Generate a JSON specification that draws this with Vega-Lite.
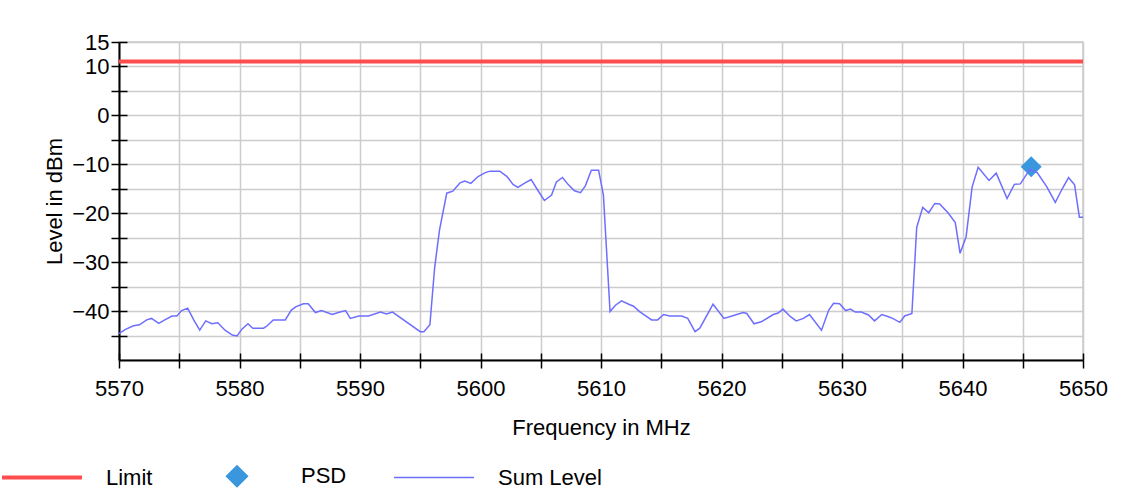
{
  "$schema": "https://vega.github.io/schema/vega-lite/v6.json",
  "width": 964,
  "height": 318,
  "autosize": {"type": "none"},
  "padding": {"left": 119, "top": 42, "right": 41, "bottom": 130},
  "background": "white",
  "config": {
    "font": "Liberation Sans",
    "view": {"stroke": "#cccccc", "strokeWidth": 1.5}
  },
  "resolve": {"axis": {"x": "independent", "y": "independent"}},
  "datasets": {
    "limit": [{"f": 5570, "v": 11}, {"f": 5650, "v": 11}],
    "psd": [{"f": 5645.7, "v": -10.5}],
    "sum": [
      {"f": 5570.0, "v": -44.6}, {"f": 5570.5, "v": -43.8}, {"f": 5571.2, "v": -43.0}, {"f": 5571.7, "v": -42.8},
      {"f": 5572.3, "v": -41.8}, {"f": 5572.7, "v": -41.5}, {"f": 5573.3, "v": -42.5}, {"f": 5573.8, "v": -41.8},
      {"f": 5574.4, "v": -41.0}, {"f": 5574.8, "v": -41.0}, {"f": 5575.2, "v": -39.9}, {"f": 5575.7, "v": -39.4},
      {"f": 5576.2, "v": -41.8}, {"f": 5576.7, "v": -43.9}, {"f": 5577.2, "v": -42.0}, {"f": 5577.7, "v": -42.6},
      {"f": 5578.2, "v": -42.4}, {"f": 5578.8, "v": -43.9}, {"f": 5579.4, "v": -44.9}, {"f": 5579.8, "v": -45.1},
      {"f": 5580.2, "v": -43.7}, {"f": 5580.7, "v": -42.6}, {"f": 5581.1, "v": -43.5}, {"f": 5582.0, "v": -43.5},
      {"f": 5582.3, "v": -43.0}, {"f": 5582.8, "v": -41.8}, {"f": 5583.8, "v": -41.8}, {"f": 5584.3, "v": -39.8},
      {"f": 5584.7, "v": -39.1}, {"f": 5585.3, "v": -38.5}, {"f": 5585.7, "v": -38.5}, {"f": 5586.3, "v": -40.3},
      {"f": 5586.8, "v": -39.9}, {"f": 5587.7, "v": -40.7}, {"f": 5588.2, "v": -40.3}, {"f": 5588.8, "v": -39.9},
      {"f": 5589.2, "v": -41.5}, {"f": 5589.9, "v": -41.0}, {"f": 5590.7, "v": -41.0}, {"f": 5591.7, "v": -40.2},
      {"f": 5592.2, "v": -40.6}, {"f": 5592.7, "v": -40.2}, {"f": 5595.0, "v": -44.2}, {"f": 5595.3, "v": -44.2},
      {"f": 5595.8, "v": -42.8}, {"f": 5596.2, "v": -31.0}, {"f": 5596.6, "v": -23.4}, {"f": 5597.2, "v": -15.9},
      {"f": 5597.7, "v": -15.5}, {"f": 5598.3, "v": -13.8}, {"f": 5598.7, "v": -13.4}, {"f": 5599.2, "v": -13.9},
      {"f": 5599.8, "v": -12.5}, {"f": 5600.4, "v": -11.7}, {"f": 5600.8, "v": -11.4}, {"f": 5601.6, "v": -11.4},
      {"f": 5602.2, "v": -12.5}, {"f": 5602.7, "v": -14.1}, {"f": 5603.1, "v": -14.7}, {"f": 5603.7, "v": -13.8},
      {"f": 5604.2, "v": -13.1}, {"f": 5604.7, "v": -15.1}, {"f": 5605.3, "v": -17.4}, {"f": 5605.9, "v": -16.3},
      {"f": 5606.3, "v": -13.6}, {"f": 5606.8, "v": -12.7}, {"f": 5607.3, "v": -14.2}, {"f": 5607.8, "v": -15.4},
      {"f": 5608.3, "v": -15.8}, {"f": 5608.7, "v": -14.4}, {"f": 5609.2, "v": -11.2}, {"f": 5609.8, "v": -11.2},
      {"f": 5610.2, "v": -16.3}, {"f": 5610.75, "v": -40.1}, {"f": 5611.2, "v": -38.8}, {"f": 5611.7, "v": -37.9},
      {"f": 5612.3, "v": -38.6}, {"f": 5612.7, "v": -39.0}, {"f": 5613.2, "v": -40.1}, {"f": 5614.2, "v": -41.8},
      {"f": 5614.7, "v": -41.8}, {"f": 5615.2, "v": -40.7}, {"f": 5615.7, "v": -41.0}, {"f": 5616.7, "v": -41.0},
      {"f": 5617.2, "v": -41.5}, {"f": 5617.8, "v": -44.2}, {"f": 5618.2, "v": -43.5}, {"f": 5619.3, "v": -38.6},
      {"f": 5620.2, "v": -41.5}, {"f": 5621.0, "v": -40.9}, {"f": 5621.8, "v": -40.3}, {"f": 5622.1, "v": -40.5},
      {"f": 5622.7, "v": -42.6}, {"f": 5623.3, "v": -42.2}, {"f": 5624.3, "v": -40.7}, {"f": 5624.7, "v": -40.4},
      {"f": 5625.1, "v": -39.6}, {"f": 5625.7, "v": -41.1}, {"f": 5626.2, "v": -42.0}, {"f": 5626.8, "v": -41.5},
      {"f": 5627.3, "v": -40.7}, {"f": 5628.3, "v": -43.9}, {"f": 5628.9, "v": -39.8}, {"f": 5629.3, "v": -38.4},
      {"f": 5629.8, "v": -38.5}, {"f": 5630.3, "v": -39.9}, {"f": 5630.7, "v": -39.6}, {"f": 5631.1, "v": -40.2},
      {"f": 5631.6, "v": -40.2}, {"f": 5632.2, "v": -40.8}, {"f": 5632.7, "v": -42.0}, {"f": 5633.3, "v": -40.7},
      {"f": 5633.8, "v": -41.1}, {"f": 5634.2, "v": -41.5}, {"f": 5634.8, "v": -42.3}, {"f": 5635.2, "v": -41.0},
      {"f": 5635.8, "v": -40.5}, {"f": 5636.2, "v": -22.9}, {"f": 5636.7, "v": -18.8}, {"f": 5637.2, "v": -19.9},
      {"f": 5637.7, "v": -18.0}, {"f": 5638.1, "v": -18.1}, {"f": 5638.8, "v": -19.9}, {"f": 5639.4, "v": -21.9},
      {"f": 5639.8, "v": -28.2}, {"f": 5640.3, "v": -24.8}, {"f": 5640.8, "v": -14.6}, {"f": 5641.3, "v": -10.6},
      {"f": 5642.2, "v": -13.3}, {"f": 5642.8, "v": -11.8}, {"f": 5643.7, "v": -17.0}, {"f": 5644.3, "v": -14.1},
      {"f": 5644.8, "v": -14.0}, {"f": 5645.6, "v": -11.0}, {"f": 5646.2, "v": -11.7}, {"f": 5647.0, "v": -14.6},
      {"f": 5647.7, "v": -17.8}, {"f": 5648.3, "v": -14.9}, {"f": 5648.8, "v": -12.7}, {"f": 5649.3, "v": -14.2},
      {"f": 5649.7, "v": -20.8}, {"f": 5650.0, "v": -20.8}
    ]
  },
  "layer": [
    {
      "data": {"name": "limit"},
      "mark": {"type": "line", "strokeWidth": 4, "clip": true},
      "encoding": {
        "x": {
          "field": "f", "type": "quantitative",
          "scale": {"domain": [5570, 5650], "nice": false, "zero": false},
          "axis": {
            "orient": "bottom",
            "title": "Frequency in MHz",
            "values": [5570, 5575, 5580, 5585, 5590, 5595, 5600, 5605, 5610, 5615, 5620, 5625, 5630, 5635, 5640, 5645, 5650],
            "labelExpr": "datum.value % 10 == 0 ? datum.label : ''",
            "format": "d",
            "grid": true, "gridColor": "#cccccc", "gridWidth": 1.5,
            "domainColor": "#000000", "domainWidth": 2,
            "tickColor": "#000000", "tickWidth": 1.5, "tickSize": 8,
            "labelFontSize": 22, "labelColor": "#000000", "labelPadding": 10,
            "labelOverlap": false, "labelFlush": false, "labelBound": false,
            "titleFontSize": 22, "titleFontWeight": "normal", "titleColor": "#000000", "titlePadding": 18
          }
        },
        "y": {
          "field": "v", "type": "quantitative",
          "scale": {"domain": [-50, 15], "nice": false, "zero": false},
          "axis": {
            "orient": "left",
            "title": "Level in dBm",
            "values": [-45, -40, -35, -30, -25, -20, -15, -10, -5, 0, 5, 10, 15],
            "labelExpr": "datum.value % 10 == 0 || datum.value == 15 ? datum.label : ''",
            "grid": true, "gridColor": "#cccccc", "gridWidth": 1.5,
            "domainColor": "#000000", "domainWidth": 2,
            "tickColor": "#000000", "tickWidth": 1.5, "tickSize": 8,
            "labelFontSize": 22, "labelColor": "#000000", "labelPadding": 2,
            "labelOverlap": false, "labelBound": false, "labelFlush": false,
            "titleFontSize": 22, "titleFontWeight": "normal", "titleColor": "#000000", "titlePadding": 5
          }
        },
        "color": {
          "datum": "Limit",
          "scale": {"domain": ["Limit", "PSD", "Sum Level"], "range": ["#ff4d4d", "#3a96dd", "#6e6eff"]},
          "legend": {
            "title": null,
            "orient": "none",
            "legendX": -117,
            "legendY": 423,
            "direction": "horizontal",
            "symbolType": "stroke",
            "labelFontSize": 22,
            "labelColor": "#000000",
            "columnPadding": 44,
            "encode": {
              "symbols": {
                "update": {
                  "x": {"value": 40},
                  "shape": {"signal": "datum.value === 'PSD' ? 'diamond' : 'stroke'"},
                  "size": {"signal": "datum.value === 'PSD' ? 441 : 6400"},
                  "fill": {"signal": "datum.value === 'PSD' ? '#3a96dd' : 'transparent'"},
                  "stroke": {"signal": "datum.value === 'PSD' ? 'transparent' : (datum.value === 'Limit' ? '#ff4d4d' : '#6e6eff')"},
                  "strokeWidth": {"signal": "datum.value === 'Limit' ? 4 : 1.5"},
                  "opacity": {"value": 1}
                }
              },
              "labels": {
                "update": {
                  "x": {"value": 104}
                }
              }
            }
          }
        }
      }
    },
    {
      "data": {"name": "psd"},
      "mark": {"type": "point", "shape": "diamond", "filled": true, "size": 441, "opacity": 1},
      "encoding": {
        "x": {"field": "f", "type": "quantitative", "axis": null},
        "y": {"field": "v", "type": "quantitative", "axis": null},
        "color": {"datum": "PSD"}
      }
    },
    {
      "data": {"name": "sum"},
      "mark": {"type": "line", "strokeWidth": 1.5},
      "encoding": {
        "x": {
          "field": "f", "type": "quantitative",
          "axis": {
            "orient": "bottom",
            "title": null, "labels": false, "domain": false, "grid": false,
            "values": [5570, 5575, 5580, 5585, 5590, 5595, 5600, 5605, 5610, 5615, 5620, 5625, 5630, 5635, 5640, 5645, 5650],
            "tickColor": "#000000", "tickWidth": 1.5, "tickSize": -7
          }
        },
        "y": {
          "field": "v", "type": "quantitative",
          "axis": {
            "orient": "left",
            "title": null, "labels": false, "domain": false, "grid": false,
            "values": [-45, -40, -35, -30, -25, -20, -15, -10, -5, 0, 5, 10, 15],
            "tickColor": "#000000", "tickWidth": 1.5, "tickSize": -8
          }
        },
        "color": {"datum": "Sum Level"}
      }
    }
  ]
}
